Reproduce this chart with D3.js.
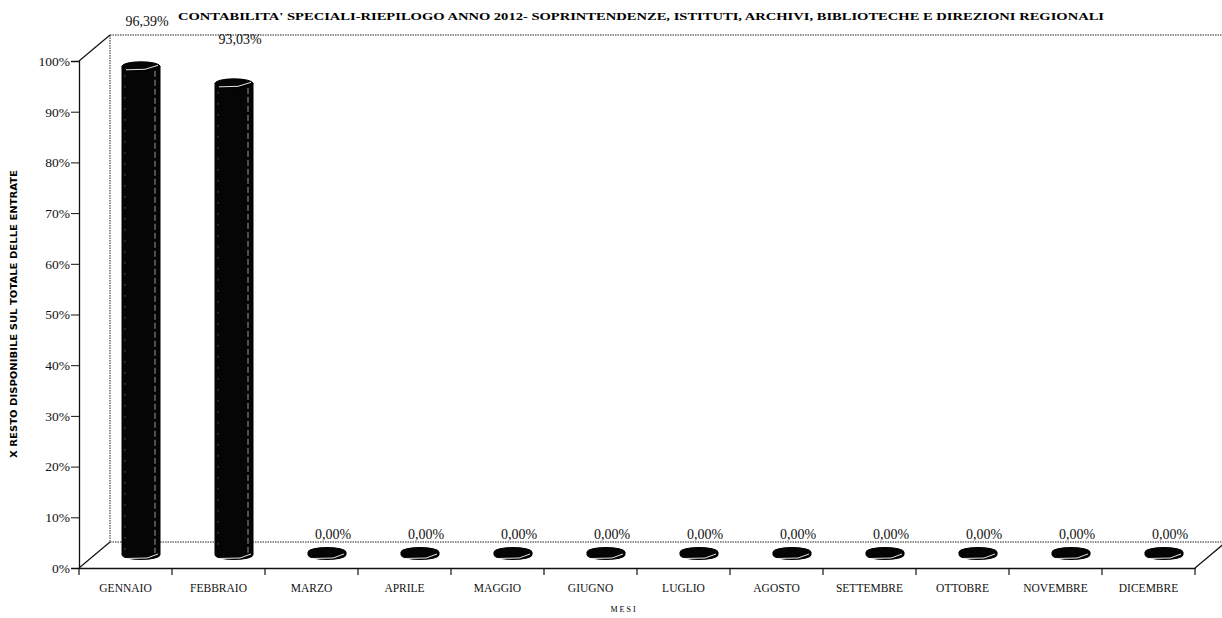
<!DOCTYPE html>
<html>
<head>
<meta charset="utf-8">
<script src="https://cdn.jsdelivr.net/npm/d3@7"></script>
<style>
  body { margin: 0; background: #fff; }
  svg { display: block; }
</style>
</head>
<body>
<svg id="chart" width="1222" height="618"></svg>
<script>
// data
const months = ['GENNAIO', 'FEBBRAIO', 'MARZO', 'APRILE', 'MAGGIO', 'GIUGNO',
  'LUGLIO', 'AGOSTO', 'SETTEMBRE', 'OTTOBRE', 'NOVEMBRE', 'DICEMBRE'];
const values = [96.39, 93.03, 0, 0, 0, 0, 0, 0, 0, 0, 0, 0];
const yTicks = [0, 10, 20, 30, 40, 50, 60, 70, 80, 90, 100];

const titleText = "CONTABILITA' SPECIALI-RIEPILOGO ANNO 2012- SOPRINTENDENZE, ISTITUTI, ARCHIVI, BIBLIOTECHE E DIREZIONI REGIONALI";
const yTitle = 'X RESTO DISPONIBILE SUL TOTALE DELLE ENTRATE';
const xTitle = 'M E S I';

const serif = '"Liberation Serif", "Times New Roman", serif';
const svg = d3.select('#chart');

// front plane and depth offset of the 3d box
const plotLeft = 79, plotRight = 1195, plotTop = 61, plotBottom = 568;
const depth = {dx: 31, dy: -26};
const mid = {dx: depth.dx / 2, dy: depth.dy / 2};

const x = d3.scaleBand().domain(months).range([plotLeft, plotRight]).padding(0);
const y = d3.scaleLinear().domain([0, 100]).range([plotBottom, plotTop]);

// Title
svg.append('text')
  .attr('x', 641).attr('y', 20)
  .attr('text-anchor', 'middle')
  .attr('font-family', serif)
  .attr('font-weight', 'bold')
  .attr('font-size', 10)
  .attr('textLength', 926)
  .attr('lengthAdjust', 'spacingAndGlyphs')
  .text(titleText);

// back wall + floor (dotted)
const back = svg.append('g')
  .attr('stroke', '#222').attr('fill', 'none')
  .attr('stroke-width', 1).attr('stroke-dasharray', '1.5,1');
back.append('line')
  .attr('x1', plotLeft + depth.dx).attr('x2', 1222)
  .attr('y1', y(100) + depth.dy).attr('y2', y(100) + depth.dy);
back.append('line')
  .attr('x1', plotLeft + depth.dx).attr('x2', plotLeft + depth.dx)
  .attr('y1', y(100) + depth.dy).attr('y2', y(0) + depth.dy);
back.append('line')
  .attr('x1', plotLeft + depth.dx).attr('x2', 1222)
  .attr('y1', y(0) + depth.dy).attr('y2', y(0) + depth.dy);

// solid edges
const edges = svg.append('g').attr('stroke', '#111').attr('stroke-width', 1.2).attr('fill', 'none');
edges.append('line')
  .attr('x1', plotLeft).attr('y1', y(100))
  .attr('x2', plotLeft + depth.dx).attr('y2', y(100) + depth.dy);
edges.append('line')
  .attr('x1', plotLeft).attr('y1', y(0))
  .attr('x2', plotLeft + depth.dx).attr('y2', y(0) + depth.dy);
edges.append('line')
  .attr('x1', plotRight).attr('y1', y(0))
  .attr('x2', plotRight + depth.dx).attr('y2', y(0) + depth.dy);

// Y axis
const yAxis = svg.append('g')
  .attr('transform', `translate(${plotLeft},0)`)
  .call(d3.axisLeft(y).tickValues(yTicks).tickSize(8).tickPadding(1).tickFormat(d => d + '%'));
yAxis.select('.domain').attr('stroke', '#111').attr('stroke-width', 1.3);
yAxis.selectAll('.tick line').attr('stroke', '#111');
yAxis.selectAll('text')
  .attr('font-family', serif).attr('font-size', 13.5).attr('fill', '#111');

// X axis
const xAxis = svg.append('g')
  .attr('transform', `translate(0,${plotBottom})`)
  .call(d3.axisBottom(x).tickSize(0).tickPadding(16));
xAxis.select('.domain').attr('stroke', '#111').attr('stroke-width', 1.3);
xAxis.selectAll('text')
  .attr('font-family', serif).attr('font-size', 11.5).attr('fill', '#111');
// ticks between categories
svg.append('g').selectAll('line')
  .data(months.concat(['end']))
  .join('line')
  .attr('x1', (d, i) => plotLeft + i * x.step())
  .attr('x2', (d, i) => plotLeft + i * x.step())
  .attr('y1', plotBottom).attr('y2', plotBottom + 7)
  .attr('stroke', '#111').attr('stroke-width', 1.2);

// axis titles
svg.append('text')
  .attr('transform', 'translate(17,314) rotate(-90)')
  .attr('text-anchor', 'middle')
  .attr('font-family', '"DejaVu Sans Condensed", "DejaVu Sans", sans-serif')
  .attr('font-weight', 'bold')
  .attr('font-size', 9)
  .attr('textLength', 288)
  .attr('lengthAdjust', 'spacingAndGlyphs')
  .text(yTitle);

svg.append('text')
  .attr('x', 623).attr('y', 612)
  .attr('text-anchor', 'middle')
  .attr('font-family', serif)
  .attr('font-size', 8)
  .text(xTitle);

// cylinders
const rx = 19, ry = 4.5, minH = 3;
const barG = svg.append('g');
months.forEach((m, i) => {
  const v = values[i];
  const cx = x(m) + x.bandwidth() / 2 + mid.dx;
  const yb = y(0) + mid.dy;
  const yt = Math.min(y(v) + mid.dy, yb - minH);
  const x0 = cx - rx, x1 = cx + rx;
  const tall = yb - yt > 20;
  const g = barG.append('g');
  g.append('path')
    .attr('d', `M${x0},${yt} L${x0},${yb} A${rx},${ry} 0 0 0 ${x1},${yb} L${x1},${yt} Z`)
    .attr('fill', '#050505').attr('stroke', '#000').attr('stroke-width', 1);
  g.append('ellipse')
    .attr('cx', cx).attr('cy', yt).attr('rx', rx).attr('ry', ry)
    .attr('fill', '#050505').attr('stroke', '#000');
  // white highlights
  if (tall) {
    g.append('path')
      .attr('d', `M${x0 + 4},${yt + ry - 1} L${cx + 4},${yt + ry - 1.5} L${x1 - 2},${yt - 1}`)
      .attr('fill', 'none').attr('stroke', '#fff').attr('stroke-width', 0.9);
    g.append('line')
      .attr('x1', x1 - 5).attr('x2', x1 - 5)
      .attr('y1', yt + ry).attr('y2', yb - 2)
      .attr('stroke', '#9a9a9a').attr('stroke-width', 1).attr('stroke-dasharray', '6,3');
    g.append('line')
      .attr('x1', x0 + 3).attr('x2', x0 + 3)
      .attr('y1', yt + ry + 4).attr('y2', yb - 4)
      .attr('stroke', '#777').attr('stroke-width', 0.6).attr('stroke-dasharray', '2,9');
  }
  g.append('path')
    .attr('d', `M${x0 + 3},${yb + ry - 1} L${cx + 6},${yb + ry - 1.5} L${x1 - 2},${yb - 1}`)
    .attr('fill', 'none').attr('stroke', '#fff').attr('stroke-width', 0.9);
  // value label
  svg.append('text')
    .attr('x', cx + 6)
    .attr('y', yt - ry - 9 - v * 0.28)
    .attr('text-anchor', 'middle')
    .attr('font-family', serif)
    .attr('font-size', 14)
    .attr('fill', '#111')
    .text(d3.format('.2f')(v).replace('.', ',') + '%');
});
</script>
</body>
</html>
